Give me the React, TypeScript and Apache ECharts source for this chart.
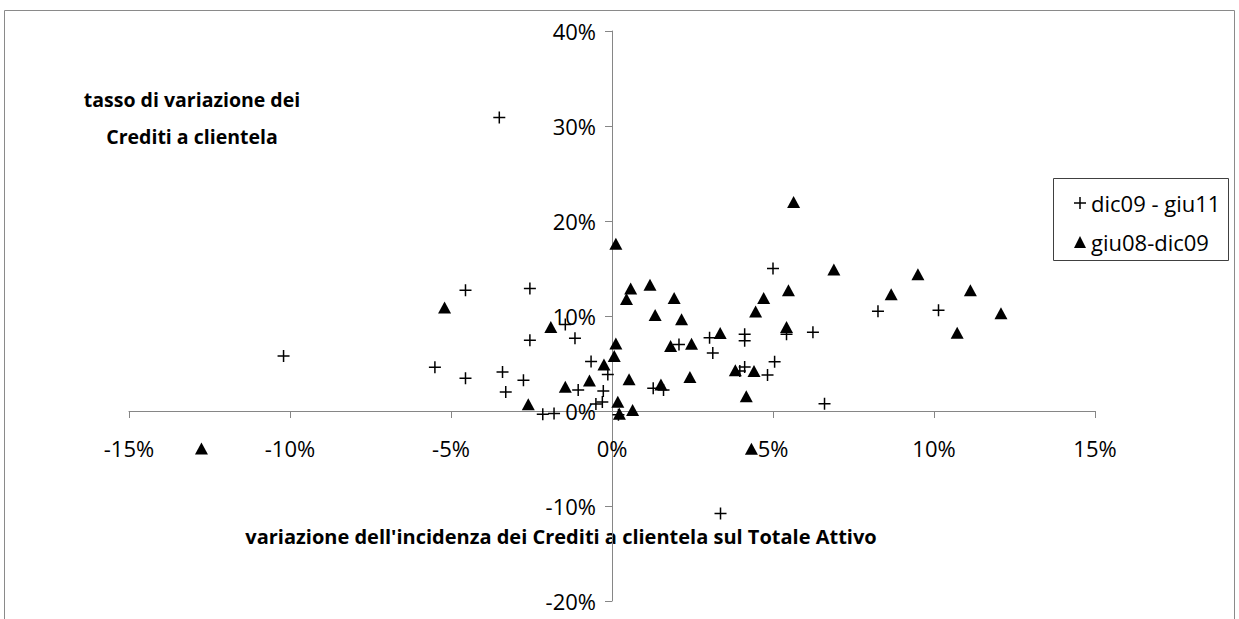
import React, { useEffect, useRef } from "react";
import * as echarts from "echarts";

// x: variazione dell'incidenza (%), y: tasso di variazione (%)
const dic09Giu11: number[][] = [
  [-10.2, 5.8], [-5.5, 4.6], [-4.55, 12.7], [-4.55, 3.45], [-3.5, 30.9],
  [-3.4, 4.1], [-3.3, 2.0], [-2.75, 3.25], [-2.55, 12.9], [-2.55, 7.45],
  [-2.15, -0.35], [-1.8, -0.25], [-1.45, 9.1], [-1.15, 7.65], [-1.05, 2.2],
  [-0.65, 5.2], [-0.5, 0.75], [-0.3, 0.95], [-0.27, 2.1], [-0.13, 3.85],
  [0.2, -0.4], [1.28, 2.4], [1.6, 2.22], [2.08, 7.0], [3.03, 7.72],
  [3.13, 6.1], [4.12, 8.07], [4.12, 7.4], [3.97, 4.2], [4.12, 4.63],
  [4.83, 3.79], [5.05, 5.19], [5.0, 15.0], [5.42, 8.07], [6.24, 8.28],
  [6.6, 0.77], [8.26, 10.5], [10.14, 10.6], [3.37, -10.8],
];

const giu08Dic09: number[][] = [
  [-12.75, -3.95], [-5.2, 10.9], [-2.6, 0.7], [-1.9, 8.85], [-1.45, 2.55],
  [-0.7, 3.2], [-0.25, 4.9], [0.07, 5.8], [0.12, 7.1], [0.12, 17.6],
  [0.18, 0.98], [0.23, -0.3], [0.53, 3.35], [0.64, 0.1], [0.45, 11.8],
  [0.58, 12.9], [1.18, 13.3], [1.34, 10.1], [1.52, 2.8], [1.82, 6.84],
  [1.93, 11.9], [2.16, 9.65], [2.42, 3.58], [2.47, 7.09], [3.36, 8.22],
  [3.83, 4.3], [4.17, 1.54], [4.33, -3.97], [4.41, 4.2], [4.46, 10.47],
  [4.71, 11.9], [5.42, 8.84], [5.48, 12.7], [5.64, 22.0], [6.89, 14.9],
  [8.67, 12.3], [9.5, 14.4], [10.72, 8.25], [11.13, 12.7], [12.08, 10.28],
];

const seriesNames = ["dic09 - giu11", "giu08-dic09"];
const xTitle = "variazione dell'incidenza dei Crediti a clientela sul Totale Attivo";
const yTitle = "tasso di variazione dei\nCrediti a clientela";
const xRange = { min: -15, max: 15, interval: 5 };
const yRange = { min: -20, max: 40, interval: 10 };

const FONT = "'Open Sans', 'Noto Sans', sans-serif";
const CROSS = "path://M0,5.25H12V6.75H0Z M5.25,0H6.75V12H5.25Z";

const GRID = { left: 129, right: 144, top: 31, bottom: 18 };
const W = 1239;
const H = 619;

export default function App() {
  const ref = useRef<HTMLDivElement>(null);
  useEffect(() => {
    if (!ref.current) return;
    const chart = echarts.init(ref.current, null, { renderer: "svg" });
    const axisColor = "#868686";
    // shift the axes so that they cross at the zero of the other axis
    const plotW = W - GRID.left - GRID.right;
    const plotH = H - GRID.top - GRID.bottom;
    const yZeroFromBottom = (plotH * (0 - yRange.min)) / (yRange.max - yRange.min);
    const xZeroFromLeft = (plotW * (0 - xRange.min)) / (xRange.max - xRange.min);
    chart.setOption({
      animation: false,
      backgroundColor: "#ffffff",
      textStyle: { fontFamily: FONT },
      grid: GRID,
      xAxis: {
        type: "value",
        min: xRange.min,
        max: xRange.max,
        interval: xRange.interval,
        offset: -yZeroFromBottom,
        axisLine: { onZero: false, lineStyle: { color: axisColor, width: 1 } },
        axisTick: { show: true, length: 7, lineStyle: { color: axisColor } },
        splitLine: { show: false },
        axisLabel: {
          margin: 26,
          color: "#000",
          fontSize: 22,
          fontFamily: FONT,
          formatter: (v: number) => `${v}%`,
        },
      },
      yAxis: {
        type: "value",
        min: yRange.min,
        max: yRange.max,
        interval: yRange.interval,
        offset: -xZeroFromLeft,
        axisLine: { show: true, onZero: false, lineStyle: { color: axisColor, width: 1 } },
        axisTick: { show: true, length: 7, lineStyle: { color: axisColor } },
        splitLine: { show: false },
        axisLabel: {
          margin: 16,
          color: "#000",
          fontSize: 22,
          fontFamily: FONT,
          formatter: (v: number) => `${v}%`,
        },
      },
      legend: {
        show: true,
        orient: "vertical",
        left: 1074,
        top: 192,
        itemWidth: 12,
        itemHeight: 12,
        itemGap: 17,
        padding: 0,
        textStyle: { fontSize: 22, lineHeight: 22, color: "#000", fontFamily: FONT },
        data: seriesNames,
      },
      graphic: [
        {
          type: "rect",
          shape: { x: 4.5, y: 10.5, width: 1230, height: 700 },
          style: { fill: "none", stroke: "#8a8a8a", lineWidth: 1 },
          silent: true,
          z: -10,
        },
        {
          type: "rect",
          shape: { x: 1053.5, y: 178.5, width: 175, height: 82 },
          style: { fill: "none", stroke: "#404040", lineWidth: 1 },
          silent: true,
        },
        {
          type: "text",
          x: 192,
          y: 118,
          style: {
            text: yTitle,
            fontSize: 19.5,
            fontWeight: "bold",
            fontFamily: FONT,
            lineHeight: 37,
            fill: "#000",
            align: "center",
            verticalAlign: "middle",
          },
        },
        {
          type: "text",
          x: 561,
          y: 536,
          style: {
            text: xTitle,
            fontSize: 20,
            fontWeight: "bold",
            fontFamily: FONT,
            fill: "#000",
            align: "center",
            verticalAlign: "middle",
          },
        },
      ],
      series: [
        {
          name: seriesNames[0],
          type: "scatter",
          symbol: CROSS,
          symbolSize: [12, 12],
          itemStyle: { color: "#000", opacity: 1 },
          data: dic09Giu11,
        },
        {
          name: seriesNames[1],
          type: "scatter",
          symbol: "triangle",
          symbolSize: [13, 12],
          itemStyle: { color: "#000", opacity: 1 },
          data: giu08Dic09,
        },
      ],
    });
    return () => chart.dispose();
  }, []);
  return (
    <div
      ref={ref}
      style={{ position: "absolute", left: 0, top: 0, width: W, height: H }}
    />
  );
}
